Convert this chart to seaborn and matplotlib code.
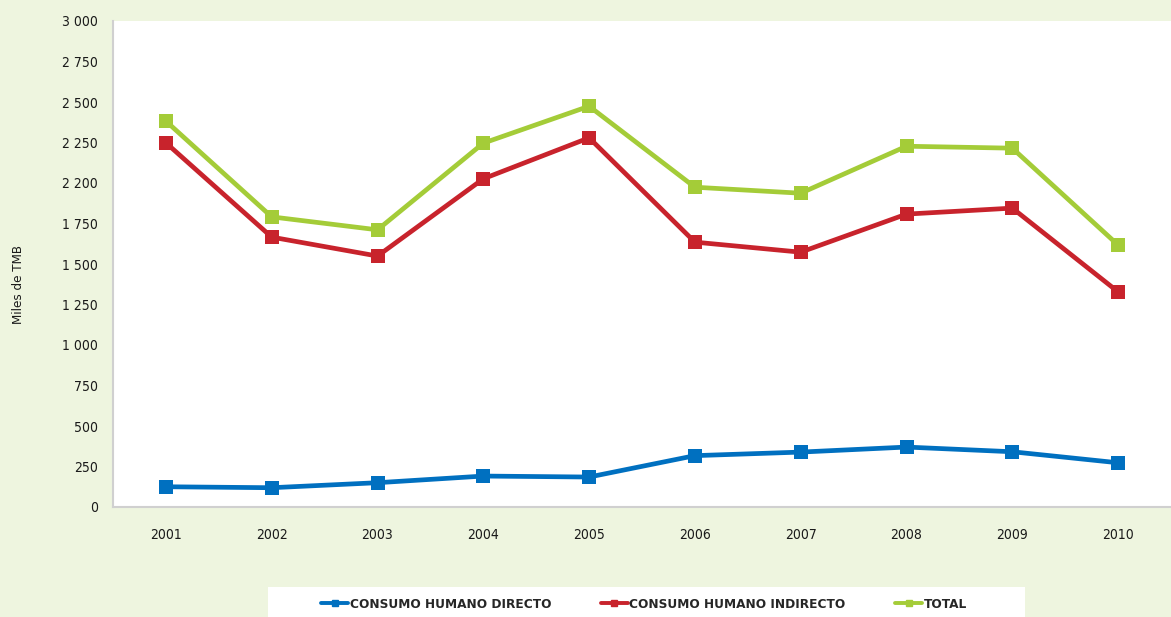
import pandas as pd
import matplotlib
matplotlib.use("Agg")
import matplotlib.pyplot as plt
from matplotlib.lines import Line2D
from matplotlib.patches import Rectangle
import seaborn as sns

# values (miles de TMB)
years = ['2001', '2002', '2003', '2004', '2005', '2006', '2007', '2008', '2009', '2010']
directo = [125, 119, 150, 191, 185, 317, 339, 370, 341, 273]
indirecto = [2248, 1666, 1549, 2026, 2279, 1635, 1573, 1808, 1845, 1328]
total = [2382, 1791, 1711, 2246, 2474, 1974, 1937, 2227, 2215, 1617]

series_names = ['CONSUMO HUMANO DIRECTO', 'CONSUMO HUMANO INDIRECTO', 'TOTAL']
series_colors = ['#0070c0', '#c8232c', '#a4cc38']

y_ticks = [0, 250, 500, 750, 1000, 1250, 1500, 1750, 2000, 2250, 2500, 2750, 3000]
# the original has "2 200" printed where 2 000 should be, kept as is
y_tick_labels = ['0', '250', '500', '750', '1 000', '1 250', '1 500', '1 750',
                 '2 200', '2 250', '2 500', '2 750', '3 000']

bg = '#eef5df'

sns.set_style("white")
plt.rcParams['font.family'] = ['DejaVu Sans']
plt.rcParams['font.stretch'] = 'condensed'

# long format table for seaborn
df = pd.DataFrame({
    'Año': years * 3,
    'Valor': directo + indirecto + total,
    'Serie': [series_names[0]] * len(years) + [series_names[1]] * len(years) + [series_names[2]] * len(years),
})
df['pos'] = df['Año'].map({y: i for i, y in enumerate(years)})

fig = plt.figure(figsize=(11.71, 6.17), dpi=100, facecolor=bg)
ax = fig.add_axes([113 / 1171, 1 - 507 / 617, 1 - 113 / 1171, (507 - 21) / 617])
ax.set_facecolor('white')

sns.lineplot(data=df, x='pos', y='Valor', hue='Serie', hue_order=series_names,
             palette=series_colors, marker='s', markersize=10.5, markeredgewidth=0,
             linewidth=3.4, legend=False, ax=ax)

ax.set_xlim(-0.5, len(years) - 0.5)
ax.set_ylim(0, 3000)

# category labels in the middle, tick marks on the boundaries
ax.set_xticks(range(len(years)))
ax.set_xticklabels(years, fontsize=10, color='#1a1a1a', stretch='condensed')
ax.set_xticks([i - 0.5 for i in range(len(years) + 1)], minor=True)
ax.tick_params(axis='x', which='major', length=0, pad=15)
ax.tick_params(axis='x', which='minor', length=5, width=1.2, color='#d0d0d0', direction='out')

ax.set_yticks(y_ticks)
ax.set_yticklabels(y_tick_labels, fontsize=10, color='#1a1a1a', stretch='condensed')
ax.tick_params(axis='y', length=5, width=1.2, color='#d0d0d0', direction='out', pad=6)

ax.set_xlabel('')
ax.set_ylabel('')
for side in ['top', 'right']:
    ax.spines[side].set_visible(False)
for side in ['left', 'bottom']:
    ax.spines[side].set_color('#d0d0d0')
    ax.spines[side].set_linewidth(1.5)

fig.text(19 / 1171, 1 - 285 / 617, 'Miles de TMB', rotation=90, ha='center', va='center',
         fontsize=9.5, color='#1a1a1a', stretch='condensed')

# white legend box at the bottom
fig.patches.append(Rectangle((268 / 1171, 0), (1025 - 268) / 1171, 30 / 617,
                             transform=fig.transFigure, facecolor='white', edgecolor='none'))
handles = [Line2D([0], [0], color=c, lw=2.8, marker='s', markersize=5) for c in series_colors]
fig.legend(handles, series_names, loc='center', bbox_to_anchor=(644 / 1171, 1 - 604 / 617),
           ncol=3, frameon=False, handlelength=2.0, handletextpad=0.1,
           columnspacing=3.7, prop={'weight': 'bold', 'size': 9.7, 'stretch': 'condensed'})

fig.savefig('out.png', dpi=100, facecolor=bg)
